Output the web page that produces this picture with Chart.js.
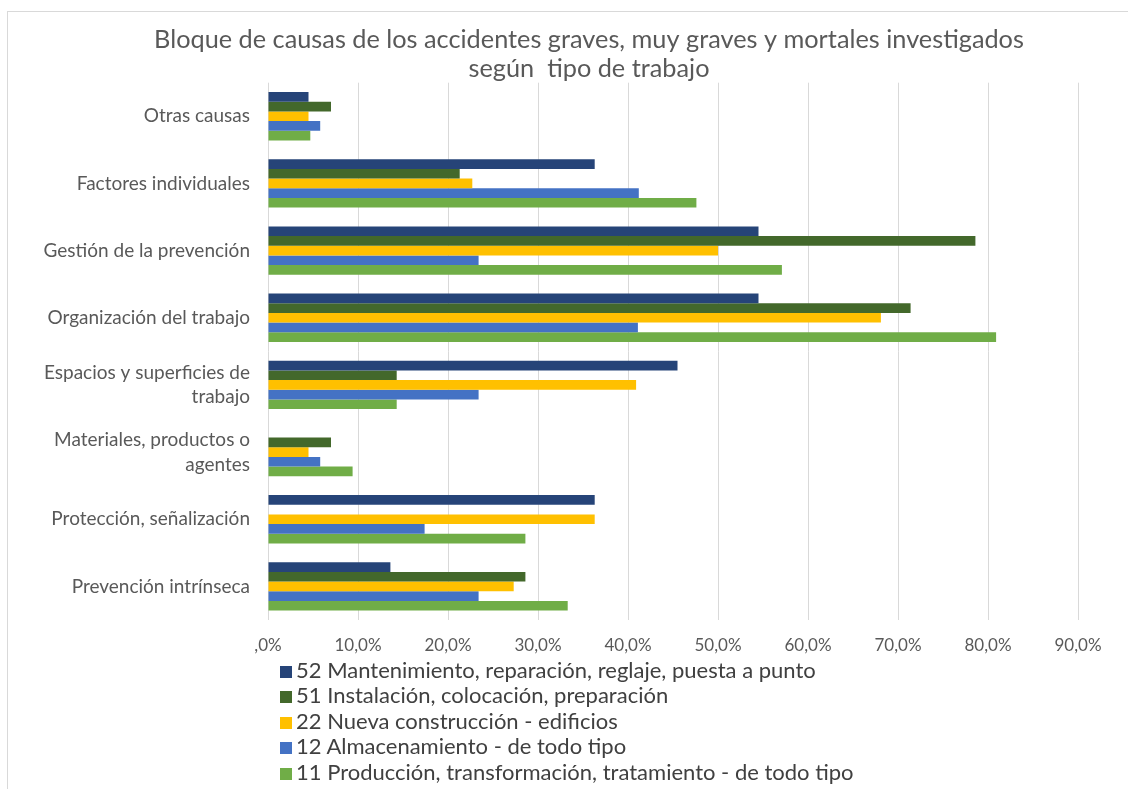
<!DOCTYPE html>
<html>
<head>
<meta charset="utf-8">
<script src="https://cdn.jsdelivr.net/npm/chart.js@4"></script>
<style>
  body { margin: 0; background: #fff; }
  #wrap { position: relative; width: 1128px; height: 789px; overflow: hidden; }
  #frame { position: absolute; left: 7px; top: 11px; width: 1200px; height: 900px;
           border-left: 1px solid #d9d9d9; border-top: 1px solid #d9d9d9; }
  #legend { position: absolute; left: 280px; top: 657px; font-family: Lato, sans-serif;
            font-size: 22px; color: #404040; }
  #legend div { height: 25.4px; line-height: 25.4px; white-space: nowrap; }
  #legend span { display: inline-block; width: 12px; height: 12px; margin-right: 4px;
                 vertical-align: 0px; }
</style>
</head>
<body>
<div id="wrap">
  <div id="frame"></div>
  <canvas id="bar-chart-causas" width="1128" height="789"></canvas>
  <div id="legend"></div>
</div>
<script>
const categories = [
  "Otras causas",
  "Factores individuales",
  "Gestión de la prevención",
  "Organización del trabajo",
  ["Espacios y superficies de", "trabajo"],
  ["Materiales, productos o", "agentes"],
  "Protección, señalización",
  "Prevención intrínseca"
];
const seriesNames = [
  "52 Mantenimiento, reparación, reglaje, puesta a punto",
  "51 Instalación, colocación, preparación",
  "22 Nueva construcción - edificios",
  "12 Almacenamiento - de todo tipo",
  "11 Producción, transformación, tratamiento - de todo tipo"
];
const mantenimiento = [4.5, 36.3, 54.5, 54.5, 45.5, 0, 36.3, 13.6];
const instalacion = [7.0, 21.3, 78.6, 71.4, 14.3, 7.0, 0, 28.6];
const construccion = [4.5, 22.7, 50.0, 68.1, 40.9, 4.5, 36.3, 27.3];
const almacenamiento = [5.8, 41.2, 23.4, 41.1, 23.4, 5.8, 17.4, 23.4];
const produccion = [4.7, 47.6, 57.1, 80.9, 14.3, 9.4, 28.6, 33.3];
const xTicks = [0, 10, 20, 30, 40, 50, 60, 70, 80, 90];
const colors = ["#264478", "#43682b", "#ffc000", "#4472c4", "#70ad47"];

const seriesValues = [mantenimiento, instalacion, construccion, almacenamiento, produccion];

// the original title sits centred over x≈590, not over the whole canvas
const shiftTitle = {
    id: 'shiftTitle',
    afterLayout: function(chart) {
        if (chart.titleBlock) chart.titleBlock.left = 100;
    }
};

document.addEventListener("DOMContentLoaded", function() {
    const datasets = seriesNames.map(function(name, i) {
        return {
            label: name,
            backgroundColor: colors[i],
            data: seriesValues[i],
            barPercentage: 1,
            categoryPercentage: 0.72
        };
    });

    new Chart(document.getElementById("bar-chart-causas"), {
        type: 'bar',
        data: { labels: categories, datasets: datasets },
        plugins: [shiftTitle],
        options: {
            indexAxis: 'y',
            responsive: false,
            animation: false,
            layout: { padding: { top: 10, right: 50, left: 0, bottom: 0 } },
            plugins: {
                legend: { display: false },
                tooltip: { enabled: false },
                title: {
                    display: true,
                    text: ['Bloque de causas de los accidentes graves, muy graves y mortales investigados',
                           'según  tipo de trabajo'],
                    color: '#595959',
                    font: { family: 'Lato', size: 25.3, weight: 'normal', lineHeight: 1.12 },
                    padding: { top: 16, bottom: 0 }
                }
            },
            scales: {
                x: {
                    min: 0,
                    max: 90,
                    afterBuildTicks: function(scale) {
                        scale.ticks = xTicks.map(function(v) { return { value: v }; });
                    },
                    afterFit: function(scale) { scale.height = 169; },
                    grid: { color: '#d9d9d9', drawTicks: false },
                    border: { display: false },
                    ticks: {
                        color: '#595959',
                        padding: 15,
                        font: { family: 'Lato', size: 17 },
                        callback: function(v) {
                            return v === 0 ? ',0%' : v.toFixed(1).replace('.', ',') + '%';
                        }
                    }
                },
                y: {
                    afterFit: function(scale) { scale.width = 268; },
                    grid: { display: false, drawTicks: false },
                    border: { display: false },
                    ticks: {
                        color: '#595959',
                        padding: 18,
                        font: { family: 'Lato', size: 19, lineHeight: 1.3 }
                    }
                }
            }
        }
    });

    // legend as a plain vertical list, like the original
    const legend = document.getElementById("legend");
    seriesNames.forEach(function(name, i) {
        const row = document.createElement("div");
        const box = document.createElement("span");
        box.style.background = colors[i];
        row.appendChild(box);
        row.appendChild(document.createTextNode(name));
        legend.appendChild(row);
    });
});
</script>
</body>
</html>
